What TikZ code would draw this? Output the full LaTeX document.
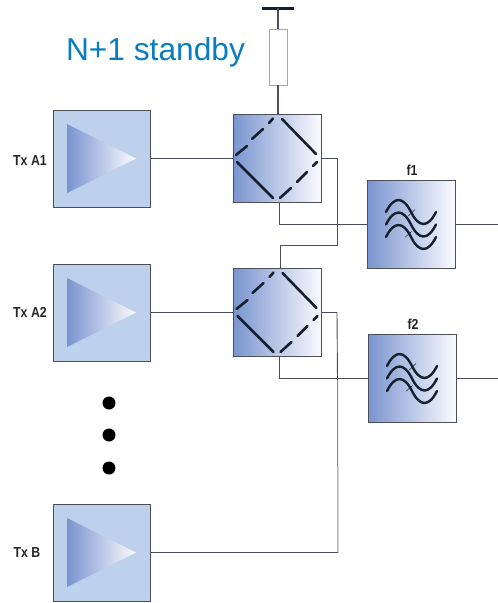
\documentclass[tikz,border=0pt]{standalone}
\usepackage{fontspec}
\setmainfont{Liberation Sans}
\usetikzlibrary{calc}
\definecolor{boxblue}{HTML}{BDD0EC}
\definecolor{gradL}{HTML}{7A94CF}
\definecolor{gradR}{HTML}{FBFBFF}
\definecolor{edge}{HTML}{4A4F58}
\definecolor{stand}{HTML}{0A7DBE}
\definecolor{ink}{HTML}{14202E}
\tikzset{
  x=1pt,y=-1pt,
  txbox/.style={draw=edge,line width=0.9pt,fill=boxblue,minimum width=97pt,minimum height=97pt,inner sep=0pt},
  gradbox/.style={draw=edge,line width=0.9pt,left color=gradL,right color=gradR,minimum width=88pt,minimum height=88pt,inner sep=0pt},
  wire/.style={draw=edge,line width=0.9pt},
  lbl/.style={font=\bfseries\fontsize{14.5}{16}\selectfont,text=black!85,inner sep=0pt,xscale=0.85},
  solidarm/.style={draw=ink,line width=2.6pt,line cap=round},
  dasharm/.style={draw=ink,line width=2.6pt,line cap=round},
  wavey/.style={draw=ink,line width=2.4pt,line cap=round},
  tick/.style={draw=ink,line width=0.5pt},
  pt/.style={circle,fill=black,minimum size=13pt,inner sep=0pt}
}
\newcommand{\triang}[1]{%
  \shade[left color=gradL,right color=gradR,shading angle=90]
    ($(#1)+(-34.5,-34.5)$) -- ($(#1)+(-34.5,34.5)$) -- ($(#1)+(34.5,0)$) -- cycle;}
\newcommand{\arms}[1]{%
  \draw[solidarm] ($(#1)+(5,-39.5)$) -- ($(#1)+(39,-4.5)$);
  \draw[solidarm] ($(#1)+(-40,3.5)$) -- ($(#1)+(-4,39.5)$);
  \draw[dasharm] ($(#1)+(-41,-3.5)$) -- ($(#1)+(-30,-12.5)$);
  \draw[dasharm] ($(#1)+(-25,-19.5)$) -- ($(#1)+(-14,-29.5)$);
  \draw[dasharm] ($(#1)+(-8,-35.5)$) -- ($(#1)+(-4,-40)$);
  \draw[dasharm] ($(#1)+(3,39.5)$) -- ($(#1)+(14,29.5)$);
  \draw[dasharm] ($(#1)+(20,23.5)$) -- ($(#1)+(30,13.5)$);
  \draw[dasharm] ($(#1)+(36,7.5)$) -- ($(#1)+(40,3.5)$);}
\newcommand{\waves}[1]{%
  \foreach \dy in {-12.5,0,12.5}{
    \draw[wavey] ($(#1)+(-25,\dy)$) .. controls ($(#1)+(-17,-16+\dy)$) and ($(#1)+(-8,-16+\dy)$) .. ($(#1)+(0,\dy)$)
      .. controls ($(#1)+(8,16+\dy)$) and ($(#1)+(17,16+\dy)$) .. ($(#1)+(25,\dy)$);}
  \draw[tick] ($(#1)+(-2.7,-8.5)$) -- ($(#1)+(4,-15)$);
  \draw[tick] ($(#1)+(-6,12.8)$) -- ($(#1)+(0.7,7)$);}
\begin{document}
\begin{tikzpicture}
\useasboundingbox (0,0) rectangle (498,603);
\node[txbox] (txa) at (101.5,158.5) {};
\node[txbox] (txb) at (101.5,312.5) {};
\node[txbox] (txc) at (101.5,552.5) {};
\triang{txa}\triang{txb}\triang{txc}
\node[gradbox] (ca) at (277,158.5) {};
\node[gradbox] (cb) at (277.5,312.5) {};
\node[gradbox] (fa) at (411,224.5) {};
\node[gradbox] (fb) at (412,378.5) {};
\arms{ca}\arms{cb}
\waves{fa}\waves{fb}
\node[lbl] (la) at (30,161) {Tx A1};
\node[lbl] (lb) at (30,312) {Tx A2};
\node[lbl] (lc) at (27,553) {Tx B};
\node[lbl] (lf) at (412,170) {f1};
\node[lbl] (lg) at (413,324) {f2};
\node[inner sep=0pt,text=stand,font=\fontsize{31.7}{36}\selectfont] (st) at (155.5,52) {N+1 standby};
\node[pt] (d1) at (109,403) {};
\node[pt] (d2) at (109,435) {};
\node[pt] (d3) at (109,468) {};
% termination
\node[draw=black!35,fill=white,line width=0.8pt,minimum width=18pt,minimum height=56pt,inner sep=0pt] (load) at (278,57) {};
\coordinate (top) at (278,8);
\coordinate (tl) at (262,8);
\coordinate (tr) at (294,8);
\draw[draw=ink,line width=3pt] (tl) -- (tr);
\draw[edge,line width=2pt] (top) -- (load.north);
\draw[edge,line width=2pt] (load.south) -- (load.south |- ca.north);
% connectors
\draw[wire] (txa.east) -- (ca.west);
\draw[wire] (txb.east) -- (cb.west);
\coordinate (fe) at (498,224.5);
\coordinate (ge) at (498,378.5);
\draw[wire] (fa.east) -- (fe);
\draw[wire] (fb.east) -- (ge);
\draw[wire] ($(ca.south)+(2,0)$) |- (fa.west);
\draw[wire] ($(cb.south)+(1.5,0)$) |- (fb.west);
\draw[wire] (ca.east) -- (337,158.5) -- (337,245) -- (280,245) -- ($(cb.north)+(2.5,0)$);
\draw[wire] (cb.east) -- (337,312.5) -- (337.5,380);
\draw[draw=black!45,line width=1pt] (337.5,380) -- (338,552.5);
\draw[wire] (338,552.5) -- (txc.east);
\end{tikzpicture}
\end{document}
